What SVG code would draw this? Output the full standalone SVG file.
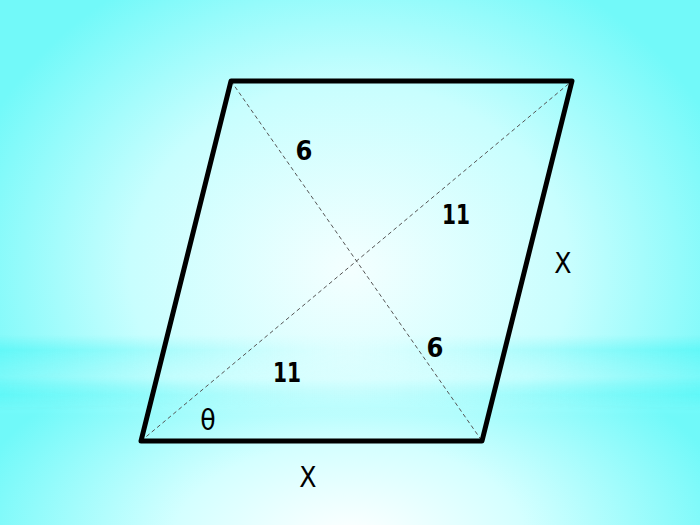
<svg xmlns="http://www.w3.org/2000/svg" width="700" height="525" viewBox="0 0 700 525">
<defs>
<radialGradient id="bgTop" gradientUnits="userSpaceOnUse" cx="350" cy="270" r="400" gradientTransform="translate(350 270) scale(1 0.85) translate(-350 -270)">
<stop offset="0" stop-color="#f4ffff"/>
<stop offset="0.55" stop-color="#c8fefe"/>
<stop offset="1" stop-color="#72f9f9"/>
</radialGradient>
<radialGradient id="bgBot" gradientUnits="userSpaceOnUse" cx="350" cy="540" r="390" gradientTransform="translate(350 540) scale(1 0.55) translate(-350 -540)">
<stop offset="0" stop-color="#ffffff"/>
<stop offset="0.45" stop-color="#d4ffff"/>
<stop offset="1" stop-color="#70f9f9"/>
</radialGradient>
<linearGradient id="botFade" x1="0" y1="0" x2="0" y2="1">
<stop offset="0" stop-color="#fff" stop-opacity="0"/>
<stop offset="0.25" stop-color="#fff" stop-opacity="1"/>
<stop offset="1" stop-color="#fff" stop-opacity="1"/>
</linearGradient>
<mask id="botMask">
<rect x="0" y="380" width="700" height="145" fill="url(#botFade)"/>
</mask>
<linearGradient id="bandH" x1="0" y1="0" x2="1" y2="0">
<stop offset="0" stop-color="#5cf7f7" stop-opacity="0.85"/>
<stop offset="0.3" stop-color="#8cfbfb" stop-opacity="0.35"/>
<stop offset="0.5" stop-color="#c0fefe" stop-opacity="0.1"/>
<stop offset="0.7" stop-color="#8cfbfb" stop-opacity="0.35"/>
<stop offset="1" stop-color="#5cf7f7" stop-opacity="0.85"/>
</linearGradient>
<linearGradient id="bandV" x1="0" y1="0" x2="0" y2="1">
<stop offset="0" stop-color="#fff" stop-opacity="0"/>
<stop offset="0.2" stop-color="#fff" stop-opacity="1"/>
<stop offset="0.4" stop-color="#fff" stop-opacity="0.5"/>
<stop offset="0.55" stop-color="#fff" stop-opacity="0.2"/>
<stop offset="0.8" stop-color="#fff" stop-opacity="1"/>
<stop offset="1" stop-color="#fff" stop-opacity="0"/>
</linearGradient>
<mask id="bandMask">
<rect x="0" y="335" width="700" height="75" fill="url(#bandV)"/>
</mask>
<style>
.edge{fill:none;stroke:#000;stroke-width:5;stroke-linejoin:round;stroke-linecap:round}
.diag{fill:none;stroke:#555;stroke-width:1;stroke-dasharray:4 3}
.num{font-family:"DejaVu Sans Condensed","DejaVu Sans",sans-serif;font-weight:bold;font-size:27px;fill:#000;text-anchor:middle}
.var{font-family:"DejaVu Sans Condensed","DejaVu Sans",sans-serif;font-size:28px;fill:#000;text-anchor:middle}
</style>
</defs>
<g id="background">
<rect x="0" y="0" width="700" height="525" fill="url(#bgTop)"/>
<rect x="0" y="380" width="700" height="145" fill="url(#bgBot)" mask="url(#botMask)"/>
<rect x="0" y="335" width="700" height="75" fill="url(#bandH)" mask="url(#bandMask)"/>
</g>
<g id="connectors">
<line class="diag" x1="231" y1="81" x2="482" y2="441"/>
<line class="diag" x1="141" y1="441" x2="572" y2="81"/>
</g>
<g id="parallelogram">
<polygon class="edge" points="231,81 572,81 482,441 141,441"/>
</g>
<g id="labels">
<text class="num" x="304" y="160">6</text>
<text class="num" x="456" y="224" textLength="28" lengthAdjust="spacingAndGlyphs">11</text>
<text class="var" x="563" y="273">X</text>
<text class="num" x="435" y="357">6</text>
<text class="num" x="287" y="382" textLength="28" lengthAdjust="spacingAndGlyphs">11</text>
<text class="var" x="208" y="430">θ</text>
<text class="var" x="308" y="487">X</text>
</g>
</svg>
